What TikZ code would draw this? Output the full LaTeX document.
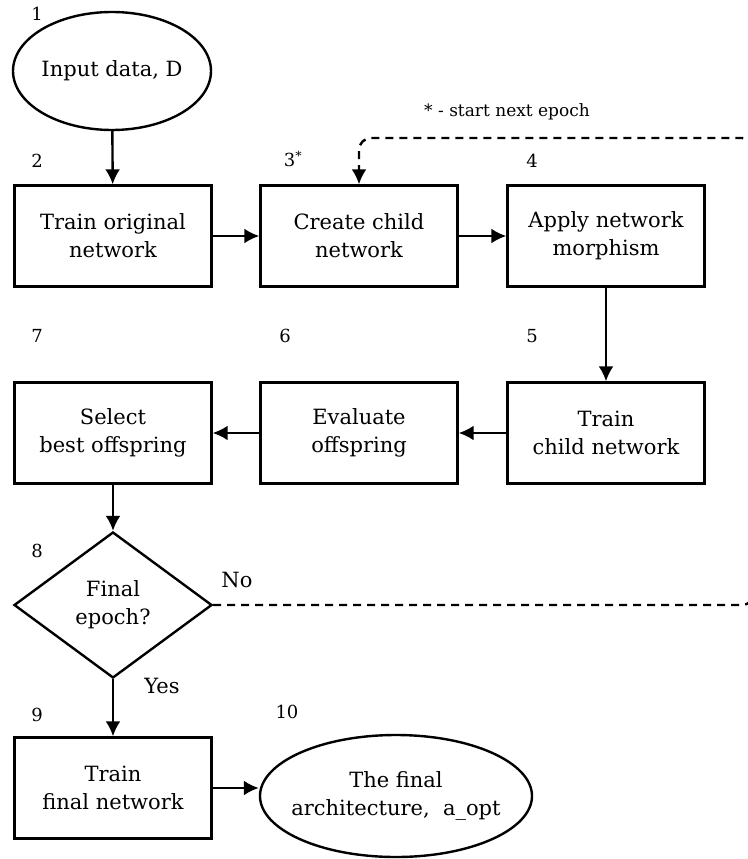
\documentclass[tikz,border=0pt]{standalone}
\usepackage{fontspec}
\setmainfont{DejaVu Serif}
\usepackage{tikz}
\usetikzlibrary{shapes.geometric,arrows.meta}

\begin{document}
\begin{tikzpicture}[
  x=1pt, y=-1pt,
  line width=2.4pt,
  every node/.style={font=\fontsize{21}{28}\selectfont, align=center},
  stepbox/.style={rectangle, draw, minimum width=197pt, minimum height=101pt, inner sep=0pt},
  endbox/.style={ellipse, draw, minimum width=198pt, minimum height=118pt, inner sep=0pt, inner xsep=-24pt},
  decide/.style={diamond, draw, minimum width=198pt, minimum height=146pt, inner sep=0pt},
  num/.style={font=\fontsize{18}{20}\selectfont},
  flow/.style={-{Latex[length=15pt,width=15pt]}},
  back/.style={flow, dash pattern=on 8pt off 6pt, rounded corners=12pt}
]
  \useasboundingbox (0,0) rectangle (747,859);

  \node[endbox]   (input)  at (112,71)  {Input data, D};
  \node[stepbox]  (train)  at (113,236) {Train original\\network};
  \node[stepbox]  (create) at (359,236) {Create child\\network};
  \node[stepbox]  (morph)  at (606,236) {Apply network\\morphism};
  \node[stepbox]  (child)  at (606,433) {Train\\child network};
  \node[stepbox]  (eval)   at (359,433) {Evaluate\\offspring};
  \node[stepbox]  (select) at (113,433) {Select\\best offspring};
  \node[decide]   (epoch)  at (113,605) {Final\\epoch?};
  \node[stepbox]  (final)  at (113,788) {Train\\final network};
  \node[endbox, minimum width=272pt, minimum height=122pt]
                  (arch)   at (396,796) {The final\\architecture,\ \ a\_opt};

  % step numbers
  \node[num] (n1)  at (37,14)   {1};
  \node[num] (n2)  at (37,161)  {2};
  \node[num] (n3)  at (293,159) {3\textsuperscript{*}};
  \node[num] (n4)  at (532,161) {4};
  \node[num] (n5)  at (532,336) {5};
  \node[num] (n6)  at (285,336) {6};
  \node[num] (n7)  at (37,336)  {7};
  \node[num] (n8)  at (37,551)  {8};
  \node[num] (n9)  at (37,715)  {9};
  \node[num] (n10) at (287,712) {10};
  \node[num, font=\fontsize{17}{19}\selectfont] (note) at (507,112) {* - start next epoch};
  \node (no)  at (237,580) {No};
  \node (yes) at (162,686) {Yes};

  \draw[flow] (input) -- (train);
  \draw[flow] (train) -- (create);
  \draw[flow] (create) -- (morph);
  \draw[flow] (morph) -- (child);
  \draw[flow] (child) -- (eval);
  \draw[flow] (eval) -- (select);
  \draw[flow] (select) -- (epoch);
  \draw[flow] (epoch) -- (final);
  \draw[flow] (final.east) -- (arch.west |- final.east);

  % loop back
  \coordinate (loopA) at (754,605);
  \coordinate (loopB) at (754,138);
  \draw[back] (epoch.east) -- (loopA) -- (loopB) -- (create.north |- loopB) -- (create.north);
\end{tikzpicture}
\end{document}
